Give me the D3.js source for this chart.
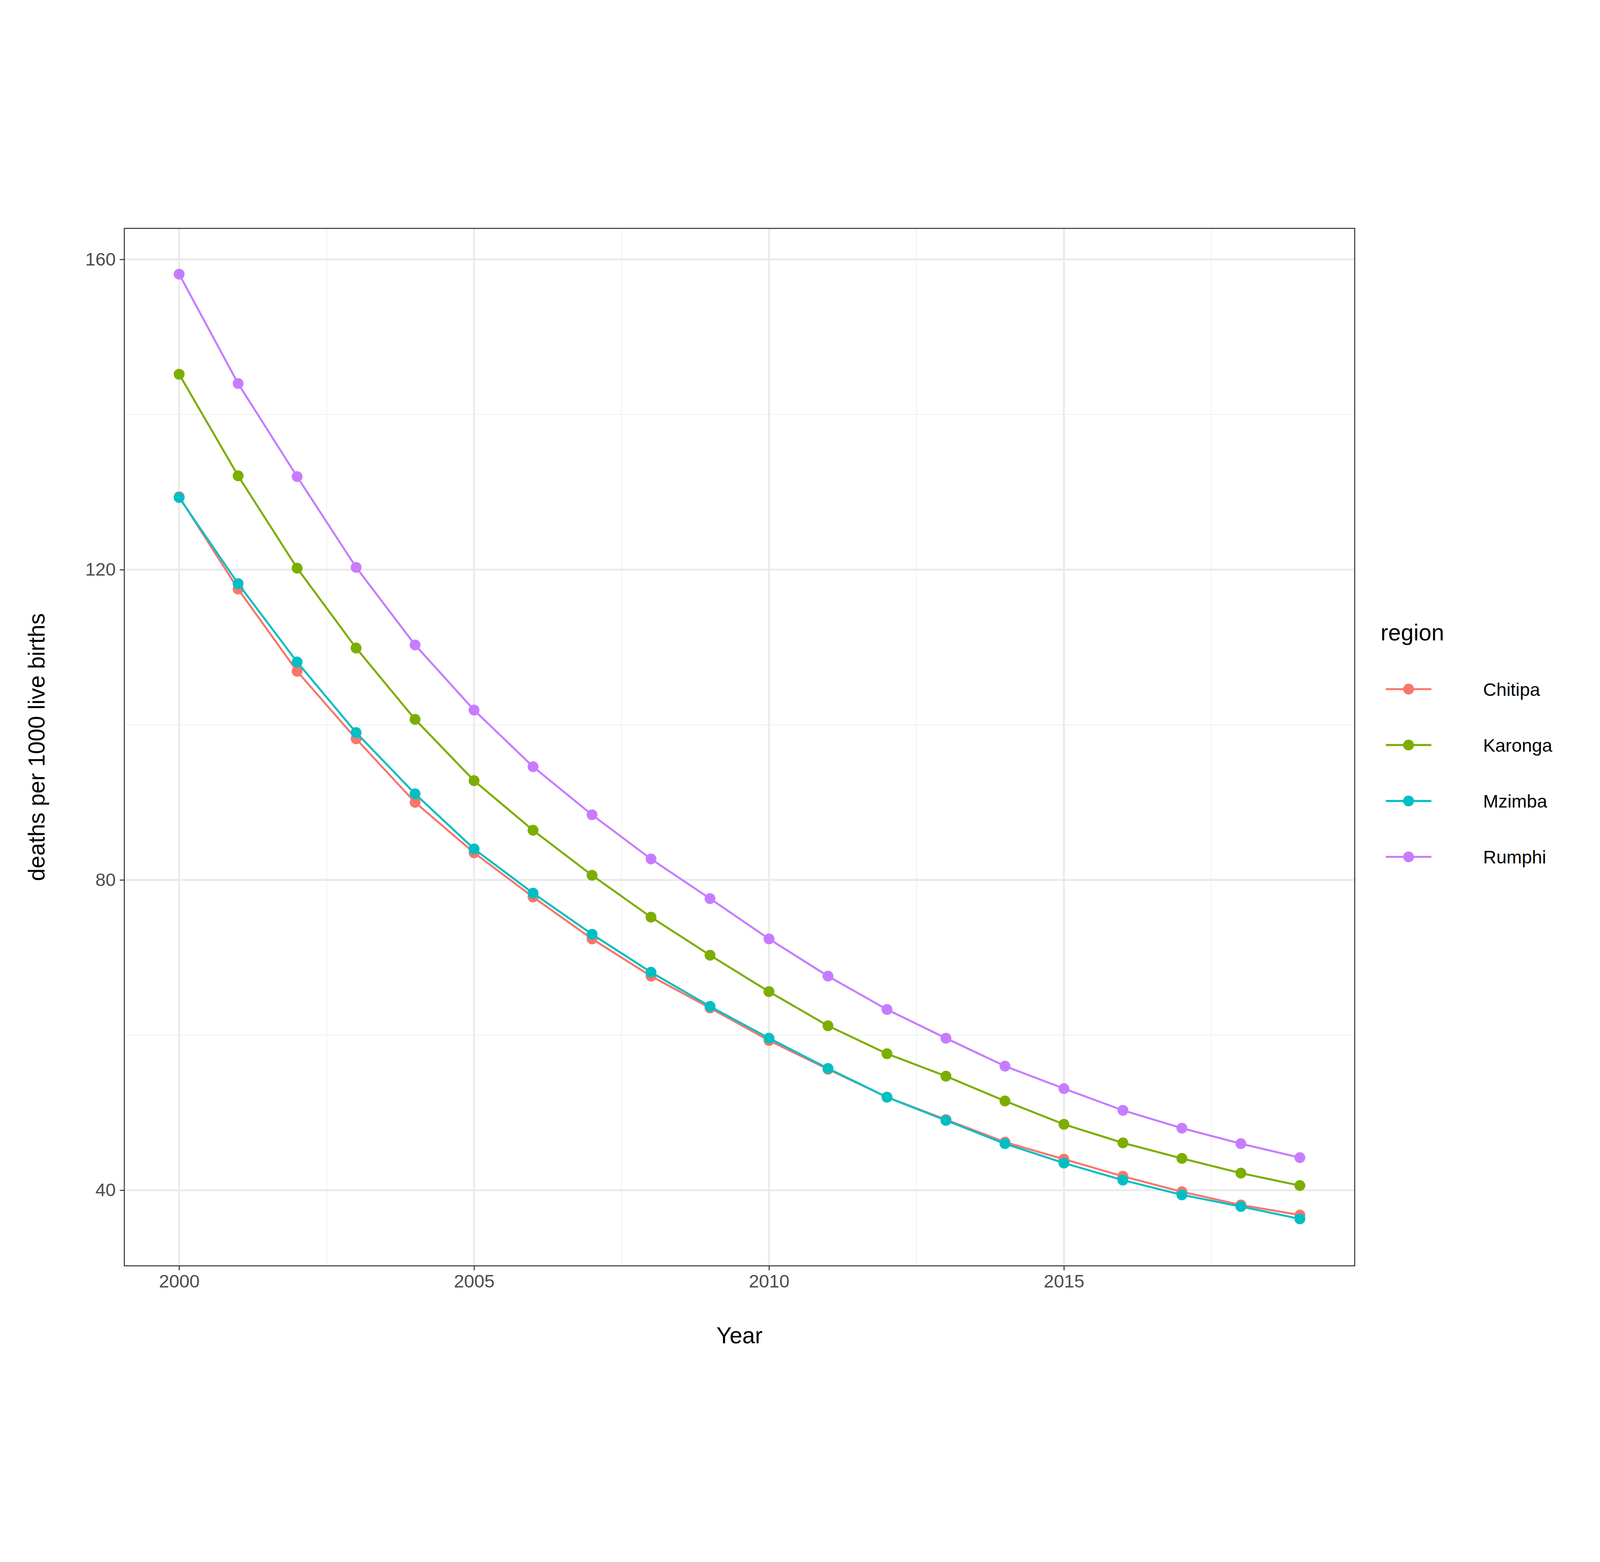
<!DOCTYPE html><html><head><meta charset="utf-8">
<script src="https://cdn.jsdelivr.net/npm/d3@7"></script>
<style>html,body{margin:0;padding:0;background:#fff;overflow:hidden}svg{display:block;width:100vw;height:100vh}</style></head><body>
<svg id="c" viewBox="0 0 5600 4000" preserveAspectRatio="xMidYMid meet"></svg>
<script>
const years=d3.range(2000,2020);
const regions=["Chitipa","Karonga","Mzimba","Rumphi"];
const colors=["#F8766D","#7CAE00","#00BFC4","#C77CFF"];
const chitipa=[129.4,117.5,106.9,98.2,90.0,83.5,77.8,72.4,67.6,63.5,59.3,55.6,52.0,49.1,46.2,44.0,41.8,39.8,38.1,36.8];
const karonga=[145.2,132.1,120.2,109.9,100.7,92.8,86.4,80.6,75.2,70.3,65.6,61.2,57.6,54.7,51.5,48.5,46.1,44.1,42.2,40.6];
const mzimba=[129.3,118.2,108.1,99.0,91.1,84.0,78.3,73.0,68.1,63.7,59.6,55.7,52.0,49.0,46.0,43.5,41.3,39.4,37.9,36.3];
const rumphi=[158.1,144.0,132.0,120.3,110.3,101.9,94.6,88.4,82.7,77.6,72.4,67.6,63.3,59.6,56.0,53.1,50.3,48.0,46.0,44.2];
const series=[chitipa,karonga,mzimba,rumphi];
const xTicks=[2000,2005,2010,2015], yTicks=[40,80,120,160];
const s=3.625;
const svg=d3.select("#c");
const L=120*s,R=1308*s,T=18*s,B=1020*s;
const x=d3.scaleLinear().domain([1999.07,2019.93]).range([L,R]);
const y=d3.scaleLinear().domain([30.25,164]).range([B,T]);
const g=svg.append("g");
[2002.5,2007.5,2012.5,2017.5].forEach(v=>g.append("line").attr("x1",x(v)).attr("x2",x(v)).attr("y1",T).attr("y2",B).attr("stroke","#F2F2F2").attr("stroke-width",3.5));
[60,100,140].forEach(v=>g.append("line").attr("y1",y(v)).attr("y2",y(v)).attr("x1",L).attr("x2",R).attr("stroke","#F2F2F2").attr("stroke-width",3.5));
xTicks.forEach(v=>g.append("line").attr("x1",x(v)).attr("x2",x(v)).attr("y1",T).attr("y2",B).attr("stroke","#EBEBEB").attr("stroke-width",7));
yTicks.forEach(v=>g.append("line").attr("y1",y(v)).attr("y2",y(v)).attr("x1",L).attr("x2",R).attr("stroke","#EBEBEB").attr("stroke-width",7));
const line=d3.line().x((d,i)=>x(years[i])).y(d=>y(d));
series.forEach((sr,k)=>{
  svg.append("path").datum(sr).attr("d",line).attr("fill","none").attr("stroke",colors[k]).attr("stroke-width",7);
  svg.selectAll(null).data(sr).enter().append("circle").attr("cx",(d,i)=>x(years[i])).attr("cy",d=>y(d)).attr("r",19).attr("fill",colors[k]);
});
svg.append("rect").attr("x",L).attr("y",T).attr("width",R-L).attr("height",B-T).attr("fill","none").attr("stroke","#333").attr("stroke-width",3.5);
const xa=svg.append("g").attr("transform",`translate(0,${B})`).call(d3.axisBottom(x).tickValues(xTicks).tickFormat(d3.format("d")).tickSize(16).tickPadding(14));
const ya=svg.append("g").attr("transform",`translate(${L},0)`).call(d3.axisLeft(y).tickValues(yTicks).tickSize(16).tickPadding(14));
[xa,ya].forEach(a=>{a.select(".domain").remove();a.selectAll("line").attr("stroke","#333").attr("stroke-width",3.5);a.selectAll("text").attr("fill","#4D4D4D").attr("font-size",64).attr("font-family","Liberation Sans, Arial");});
svg.append("text").attr("x",(L+R)/2).attr("y",1095*s).attr("text-anchor","middle").attr("font-size",80).attr("font-family","Liberation Sans, Arial").text("Year");
svg.append("text").attr("transform",`translate(${43*s},${(T+B)/2}) rotate(-90)`).attr("text-anchor","middle").attr("font-size",80).attr("font-family","Liberation Sans, Arial").text("deaths per 1000 live births");
svg.append("text").attr("x",1333*s).attr("y",416*s).attr("font-size",80).attr("font-family","Liberation Sans, Arial").text("region");
regions.forEach((r,k)=>{
  const yy=(463+54*k)*s;
  svg.append("line").attr("x1",1338*s).attr("x2",1382*s).attr("y1",yy).attr("y2",yy).attr("stroke",colors[k]).attr("stroke-width",7);
  svg.append("circle").attr("cx",1360*s).attr("cy",yy).attr("r",19).attr("fill",colors[k]);
  svg.append("text").attr("x",1432*s).attr("y",yy+23).attr("font-size",64).attr("font-family","Liberation Sans, Arial").text(r);
});
</script></body></html>
